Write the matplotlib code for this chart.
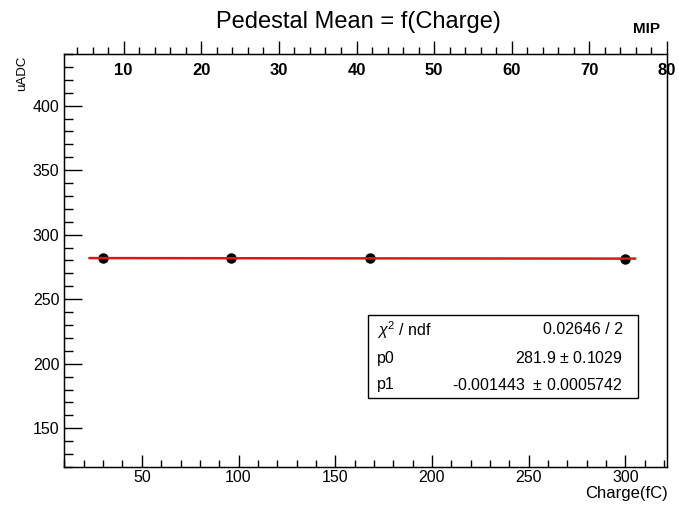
import matplotlib
matplotlib.use("Agg")
import matplotlib.pyplot as plt
import numpy as np
from matplotlib.ticker import MultipleLocator
from matplotlib.patches import Rectangle

plt.rcParams['font.family'] = ['Liberation Sans', 'DejaVu Sans']
plt.rcParams['mathtext.fontset'] = 'custom'
plt.rcParams['mathtext.rm'] = 'Liberation Sans'
plt.rcParams['mathtext.it'] = 'Liberation Sans:italic'

# data
charge = [30, 96, 168, 300]              # fC
ped_mean = [282.0, 281.8, 281.6, 281.5]  # uADC
p0 = 281.9
p1 = -0.001443
fit_range = [23, 305]
stats_rows = [("$\\chi^2$ / ndf", "0.02646 / 2"),
              ("p0", "281.9 $\\pm$ 0.1029"),
              ("p1", "-0.001443  $\\pm$ 0.0005742")]

W, H = 679, 509
L, R, T, B = 63.5, 667, 54, 467
fig = plt.figure(figsize=(W/100, H/100), dpi=100)
ax = fig.add_axes([L/W, 1-B/H, (R-L)/W, (B-T)/H])

ax.plot(charge, ped_mean, 'o', color='black', ms=6.5, zorder=3)
xf = np.array(fit_range, dtype=float)
ax.plot(xf, p0 + p1*xf, color='#d81818', lw=1.8, zorder=4)

ax.set_xlim(9.5, 321.5)
ax.set_ylim(120, 440)
ax.xaxis.set_major_locator(MultipleLocator(50))
ax.xaxis.set_minor_locator(MultipleLocator(10))
ax.yaxis.set_major_locator(MultipleLocator(50))
ax.yaxis.set_minor_locator(MultipleLocator(10))
ax.tick_params(axis='both', which='both', direction='in', top=False, right=False,
               labelsize=11.5, color='black', width=1.0)
ax.tick_params(axis='x', which='major', length=8.6, pad=2)
ax.tick_params(axis='x', which='minor', length=5)
ax.tick_params(axis='y', which='major', length=13, pad=3)
ax.tick_params(axis='y', which='minor', length=6.5)
for s in ax.spines.values():
    s.set_linewidth(1.0)

ax.set_xlabel('Charge(fC)', fontsize=12)
ax.xaxis.set_label_coords((668-L)/(R-L), -(486-B)/(B-T))
ax.xaxis.label.set_ha('right')
ax.xaxis.label.set_va('top')
ax.set_ylabel('uADC', fontsize=9.5)
ax.yaxis.set_label_coords(-(L-22.5)/(R-L), (B-56)/(B-T))
ax.yaxis.label.set_va('center')
ax.yaxis.label.set_ha('right')

# top MIP axis
ax2 = ax.twiny()
ax2.set_xlim(2.25, 80)
ax2.xaxis.set_major_locator(MultipleLocator(10))
ax2.xaxis.set_minor_locator(MultipleLocator(2))
ax2.tick_params(axis='x', which='major', direction='out', length=9.4, width=1.0,
                labelsize=12, pad=-26.4)
ax2.tick_params(axis='x', which='minor', direction='out', length=5, width=1.0)
for lab in ax2.get_xticklabels():
    lab.set_fontweight('bold')

fig.text(358/W, 1-28/H, 'Pedestal Mean = f(Charge)', ha='center', va='baseline', fontsize=17)
fig.text(646.5/W, 1-33/H, 'MIP', ha='center', va='baseline', fontsize=11, fontweight='bold')

# stats box
bx0, bx1 = (368-L)/(R-L), (638-L)/(R-L)
by0, by1 = (B-398)/(B-T), (B-315)/(B-T)
ax.add_patch(Rectangle((bx0, by0), bx1-bx0, by1-by0, transform=ax.transAxes,
                       fill=True, facecolor='white', edgecolor='black', lw=1.0, zorder=5))
ys_px = [330, 358, 385]
for (l, r), yp in zip(stats_rows, ys_px):
    y = (B-yp)/(B-T)
    ax.text((377-L)/(R-L), y, l, transform=ax.transAxes, ha='left', va='center', fontsize=11.5, zorder=6)
    ax.text((623-L)/(R-L), y, r, transform=ax.transAxes, ha='right', va='center', fontsize=11.5, zorder=6)

fig.savefig('out.png', dpi=100)
